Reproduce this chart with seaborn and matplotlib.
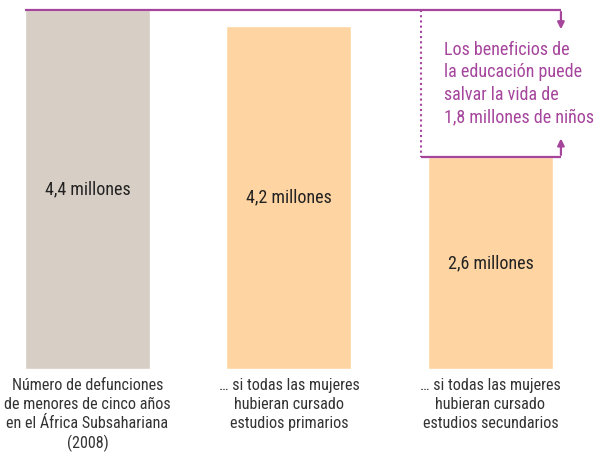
import pandas as pd
import matplotlib
matplotlib.use("Agg")
import matplotlib.pyplot as plt
import seaborn as sns

categories = [
    "Número de defunciones\nde menores de cinco años\nen el África Subsahariana\n(2008)",
    "… si todas las mujeres\nhubieran cursado\nestudios primarios",
    "… si todas las mujeres\nhubieran cursado\nestudios secundarios",
]
deaths = [4.4, 4.2, 2.6]
bar_labels = ["4,4 millones", "4,2 millones", "2,6 millones"]
bar_colors = ["#d7cec5", "#fed4a2", "#fed4a2"]
note = "Los beneficios de\nla educación puede\nsalvar la vida de\n1,8 millones de niños"

purple = "#a5459c"
fam = ["Roboto Condensed", "Liberation Sans Narrow", "DejaVu Sans"]

sns.set_style("white")
plt.rcParams["font.family"] = fam
plt.rcParams["font.stretch"] = "condensed"

df = pd.DataFrame({"cat": categories, "val": deaths})

fig = plt.figure(figsize=(5.97, 4.54), dpi=100)
ax = fig.add_axes([0, 0, 1, 1])
sns.barplot(data=df, x="cat", y="val", hue="cat", palette=bar_colors,
            width=0.62, legend=False, ax=ax, saturation=1)

ax.set_xlim(-0.434, 2.529)
ax.set_ylim(-1.042, 4.523)

for c, lab in zip(ax.containers, bar_labels):
    ax.bar_label(c, labels=[lab], label_type="center", fontsize=13, color="#222222")

# brackets showing the difference
top, low = deaths[0], deaths[2]
x_left = -0.31
x_dot = 1.655
x_arrow = 2.35
ax.plot([x_left, x_arrow], [top, top], color=purple, lw=1.6, solid_capstyle="butt")
ax.annotate("", xy=(x_arrow, 4.13), xytext=(x_arrow, top + 0.01),
            arrowprops=dict(arrowstyle="-|>", color=purple, lw=1.6, mutation_scale=10))
ax.plot([x_dot, x_dot], [top, low], color=purple, lw=1.5, ls=(0, (1, 1.5)))
ax.plot([x_dot, x_arrow], [low, low], color=purple, lw=1.6, solid_capstyle="butt")
ax.annotate("", xy=(x_arrow, 2.86), xytext=(x_arrow, low - 0.01),
            arrowprops=dict(arrowstyle="-|>", color=purple, lw=1.6, mutation_scale=10))
ax.text(1.768, 3.5, note, color=purple, fontsize=13, va="center", ha="left",
        linespacing=1.33)

ax.set_xlabel("")
ax.set_ylabel("")
ax.set_yticks([])
sns.despine(ax=ax, left=True, bottom=True)
ax.spines["bottom"].set_position(("data", 0))
ax.tick_params(axis="x", length=0, pad=6.5, labelsize=11.6, labelcolor="#333333")
for lbl in ax.get_xticklabels():
    lbl.set_linespacing(1.32)
    lbl.set_verticalalignment("top")

fig.savefig("out.png", dpi=100)
